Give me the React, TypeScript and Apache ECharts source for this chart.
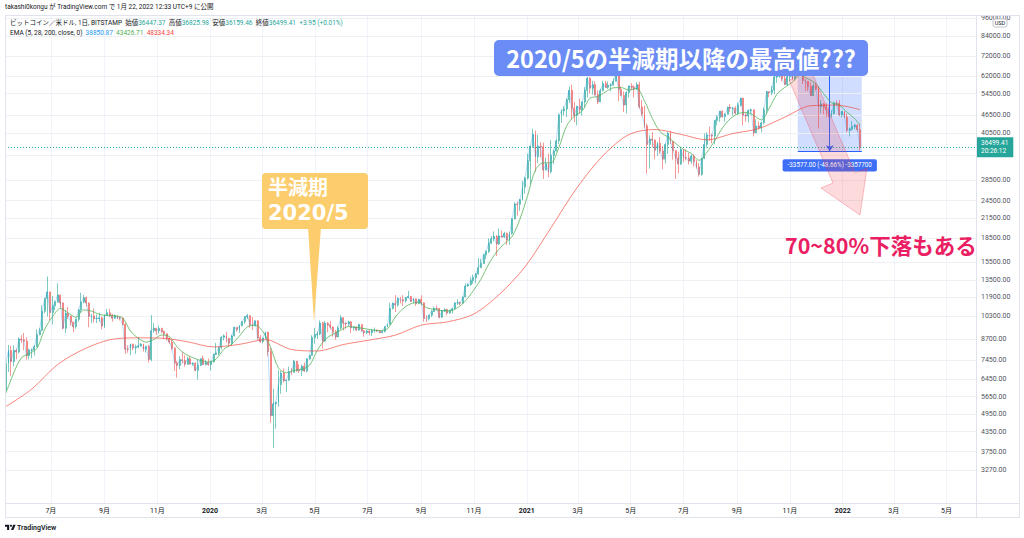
import React, { useEffect, useRef } from 'react';
import * as echarts from 'echarts';

// ---------- DATA ----------
// 3-day candles starting at 2019-05-09, rows: [open, high, low, close]
const ohlc: number[][] = [
  [5950,7450,5950,7250],[7250,8330,6800,7990],[7990,8270,6600,7350],[7350,8300,7100,7990],[7990,8100,7480,7900],
  [7900,8800,7800,8700],[8700,8950,8450,8650],[8650,9100,8000,8560],[8560,8820,7450,7680],[7680,8100,7470,8000],
  [8000,8100,7530,8010],[8010,8320,7700,8230],[8230,9350,8180,8980],[8980,9450,8950,9280],[9280,11200,9250,10700],
  [10700,11800,10550,11780],[11780,13880,10300,12370],[12370,12370,10000,10600],[10600,12000,9700,11150],[11150,11600,10800,11470],
  [11470,13200,11400,12100],[12100,12100,11000,11390],[11390,11450,9350,9430],[9430,10800,9100,10530],[10530,11050,10100,10330],
  [10330,10340,9600,9880],[9880,9900,9150,9540],[9540,10130,9400,10080],[10080,10900,9900,10820],[10820,12300,10600,11470],
  [11470,12100,11350,11850],[11850,11950,11100,11380],[11380,11450,9500,10320],[10320,10500,9800,10340],[10340,10950,9850,10130],
  [10130,10450,9800,10150],[10150,10600,9900,10190],[10190,10280,9350,9590],[9590,10450,9450,10380],[10380,10900,10350,10580],
  [10580,10900,10250,10420],[10420,10500,9900,10160],[10160,10450,10100,10360],[10360,10380,10100,10190],[10190,10300,10000,10180],
  [10180,10200,9650,9700],[9700,9800,7800,8060],[8060,8300,7850,8050],[8050,8400,7700,8370],[8370,8400,8000,8150],
  [8150,8350,7780,8190],[8190,8800,8120,8270],[8270,8440,8220,8370],[8370,8400,7920,8070],[8070,8280,7860,8230],
  [8230,8330,7300,7470],[7470,10400,7370,9250],[9250,9800,9120,9430],[9430,9430,8980,9250],[9250,9600,9050,9410],
  [9410,9470,9100,9210],[9210,9250,8700,9050],[9050,9070,8600,8760],[8760,8790,8400,8500],[8500,8650,8000,8120],
  [8120,8200,6850,7280],[7280,7380,6520,7140],[7140,7650,6950,7450],[7450,7880,7250,7410],[7410,7700,7080,7200],
  [7200,7620,7180,7510],[7510,7650,7180,7220],[7220,7300,7120,7260],[7260,7300,6840,6880],[6880,7440,6430,7150],
  [7150,7520,7100,7510],[7510,7690,7150,7200],[7200,7440,7130,7300],[7300,7520,7120,7180],[7180,7400,6870,7340],
  [7340,7800,7280,7760],[7760,8450,7720,7820],[7820,8200,7700,8180],[8180,8880,8050,8810],[8810,9000,8600,8910],
  [8910,9180,8470,8740],[8740,8780,8250,8430],[8430,8980,8280,8900],[8900,9550,8880,9500],[9500,9500,9200,9330],
  [9330,9640,9100,9610],[9610,9950,9570,9900],[9900,10300,9740,10270],[10270,10500,10100,10360],[10360,10380,9450,9700],
  [9700,10250,9300,9600],[9600,9990,9580,9970],[9970,10000,8650,8790],[8790,8950,8450,8540],[8540,8780,8420,8760],
  [8760,9180,8680,9160],[9160,9190,7650,7930],[7930,8150,4650,4900],[4900,6000,3850,5360],[5360,5450,4450,5410],
  [5410,6900,5250,6190],[6190,6850,5780,6740],[6740,6980,6280,6370],[6370,6400,5850,6400],[6400,7080,6350,6790],
  [6790,7000,6650,6780],[6780,7450,6770,7370],[7370,7380,6800,6890],[6890,7200,6750,6870],[6870,7180,6600,7100],
  [7100,7300,6800,6850],[6850,7530,6780,7490],[7490,7720,7450,7700],[7700,8950,7680,8790],[8790,9460,8400,8970],
  [8970,9200,8700,9030],[9030,10000,8950,9810],[9810,9900,8100,8560],[8560,9950,8550,9790],[9790,9880,9150,9680],
  [9680,9960,9350,9510],[9510,9570,8850,9180],[9180,9310,8650,8840],[8840,9600,8820,9430],[9430,10400,9350,10200],
  [10200,10230,9280,9800],[9800,9860,9400,9760],[9760,9990,9600,9890],[9890,9950,9100,9470],[9470,9550,9250,9520],
  [9520,9560,9220,9300],[9300,9750,9250,9690],[9690,9700,9200,9250],[9250,9300,8850,9120],[9120,9300,9030,9240],
  [9240,9270,8950,9130],[9130,9380,8900,9250],[9250,9480,9120,9290],[9290,9350,9180,9240],[9240,9280,9080,9130],
  [9130,9230,9080,9210],[9210,9560,9140,9540],[9540,9730,9500,9710],[9710,11400,9700,10930],[10930,11450,10850,11350],
  [11350,12080,10650,11240],[11240,11900,11080,11770],[11770,11920,11350,11680],[11680,12080,11150,11580],[11580,11900,11450,11860],
  [11860,12480,11800,11960],[11960,12000,11500,11520],[11520,11800,11370,11750],[11750,11770,11150,11320],[11320,11720,11300,11710],
  [11710,12080,11200,11400],[11400,11450,9900,10170],[10170,10400,9880,10130],[10130,10420,10000,10400],[10400,10800,10250,10680],
  [10680,11100,10650,10940],[10940,11180,10800,10920],[10920,10990,10150,10240],[10240,10780,10200,10730],[10730,10950,10650,10840],
  [10840,10920,10400,10570],[10570,10800,10500,10790],[10790,10950,10530,10920],[10920,11450,10850,11380],[11380,11720,11220,11420],
  [11420,11500,11200,11370],[11370,11950,11350,11920],[11920,13200,11900,12930],[12930,13200,12850,13070],[13070,13850,12950,13460],
  [13460,14100,13150,13750],[13750,14250,13200,14150],[14150,15950,14100,14840],[14840,15850,14800,15300],[15300,16480,15250,16320],
  [16320,16880,15800,16730],[16730,18480,16550,17820],[17820,18800,17700,18420],[18420,19450,18050,18740],[18740,18930,16200,17720],
  [17720,19900,17580,18790],[18790,19600,18570,18650],[18650,19420,18550,19170],[19170,19300,17600,18250],[18250,19400,17600,19170],
  [19170,21500,19000,21360],[21360,24200,21300,23860],[23860,24300,21900,23820],[23820,24800,22700,24690],[24690,28400,24550,27080],
  [27080,29300,25800,28980],[28980,34800,28700,33000],[33000,36900,27700,36800],[36800,41950,36300,40200],[40200,41400,30400,34000],
  [34000,40100,32400,36800],[36800,37900,33800,36600],[36600,37800,28800,30800],[30800,33800,30700,32300],[32300,34800,29200,30400],
  [30400,38500,30000,34300],[34300,35900,32200,35500],[35500,38700,35400,38300],[38300,47000,37400,46400],[46400,48600,43800,47900],
  [47900,49700,46200,48600],[48600,52600,45800,52100],[52100,57500,50900,55900],[55900,58300,45000,48900],[48900,51300,44100,46300],
  [46300,49800,43000,49600],[49600,52600,47000,48400],[48400,51400,46300,51200],[51200,57200,49300,55900],[55900,61800,53000,61200],
  [61200,61700,54600,56800],[56800,60000,54100,58300],[58300,59900,53700,54100],[54100,55800,50400,51300],[51300,56600,51200,55800],
  [55800,60000,55500,58800],[58800,60000,56900,57100],[57100,59700,56500,58000],[58000,58900,55500,58100],[58100,61200,57900,59800],
  [59800,64900,59800,63200],[63200,63500,51500,56200],[56200,57500,53500,53800],[53800,55400,47500,50100],[50100,55400,47000,55000],
  [55000,58000,53000,57700],[57700,58900,56000,57200],[57200,58000,53100,56400],[56400,59500,56000,58300],[58300,59600,48700,49400],
  [49400,52000,46000,46800],[46800,49800,42100,42900],[42900,43600,30000,37300],[37300,39900,31100,38800],[38800,40900,36500,38500],
  [38500,38800,33400,35700],[35700,38000,34200,37600],[37600,39400,34800,35500],[35500,36800,31000,33400],[33400,37600,32400,37300],
  [37300,41000,34700,40500],[40500,41300,37400,38100],[38100,38200,33300,35600],[35600,35700,28800,33700],[33700,35300,30100,32200],
  [32200,36600,32000,35900],[35900,36000,32700,33800],[33800,35900,33100,33700],[33700,35000,32100,32900],[32900,34600,32300,34200],
  [34200,34600,31600,32800],[32800,33200,31100,31500],[31500,32400,29300,29800],[29800,33700,29500,33600],[33600,40500,33400,37300],
  [37300,40900,36400,40000],[40000,42600,38300,39900],[39900,40400,37600,39700],[39700,44700,37300,44600],[44600,46500,43000,45600],
  [45600,47900,44200,47800],[47800,48100,45600,45900],[45900,47200,44200,46700],[46700,49400,46600,49300],[49300,50500,47600,48900],
  [48900,49300,46300,48900],[48900,49600,46700,47100],[47100,51000,46600,50000],[50000,52900,49500,52700],[52700,52900,43000,46400],
  [46400,47200,44200,46100],[46100,48400,44000,48100],[48100,48800,46800,48300],[48300,48400,39600,40700],[40700,45000,40600,42800],
  [42800,44300,41700,42200],[42200,44100,40800,43800],[43800,49200,43300,48200],[48200,55700,46900,55300],[55300,55400,53100,54900],
  [54900,57800,53900,56000],[56000,62900,54300,61700],[61700,62700,59100,62000],[62000,67000,61400,62200],[62200,63700,59700,60900],
  [60900,63700,58100,58400],[58400,62500,57800,61900],[61900,64300,59800,63200],[63200,63500,60200,61000],[61000,67800,60100,67500],
  [67500,69000,62800,64900],[64900,65500,62300,65500],[65500,66300,58600,60300],[60300,60900,55600,59700],[59700,60000,55600,57600],
  [57600,59300,53600,53700],[53700,58800,53600,57800],[57800,59200,55900,56500],[56500,57600,42000,49400],[49400,51900,47100,50500],
  [50500,50800,46800,49400],[49400,50700,45700,48400],[48400,49500,45600,46200],[46200,48300,45500,46900],[46900,51300,46600,50800],
  [50800,51800,50000,50700],[50700,52000,46100,46500],[46500,47900,45700,47700],[47700,47900,45500,45800],[45800,47000,40800,41500],
  [41500,42300,39600,41800],[41800,44400,41300,42600],[42600,43500,41800,43100],[43100,43200,41100,41700],[41700,43500,35500,36500],
];

// EMA 28 read every third candle (last value = final candle)
const ema28: number[] = [
  5800,6741,7563,7794,8121,9378,10290,10937,10572,10233,
  10816,10722,10460,10365,10344,10179,9235,8753,8500,8670,
  8966,8859,8192,7789,7566,7407,7324,7492,8061,8370,
  8905,9526,9649,9201,8172,7009,6761,6888,6929,7158,
  8010,8668,9029,9297,9551,9491,9410,9318,9270,9393,
  10251,10925,11323,11456,10997,10865,10753,10747,11002,11567,
  12477,13606,15252,16676,17738,18731,21326,25502,30861,32502,
  32509,36480,42831,46106,47905,52716,53381,55267,56948,57032,
  55997,56677,51589,45297,41019,39399,37560,35918,34853,33112,
  35169,38303,42180,45171,46890,47409,46358,44788,48823,54293,
  57130,59444,62500,60867,58671,54468,50979,50070,47474,45176,
  42960,
];

// EMA 200 read every tenth candle (last value = final candle)
const ema200: number[] = [
  5250,5984,7196,8060,8652,8779,8757,8520,8199,8360,
  8657,8043,7956,8350,8631,8957,9656,9891,10463,12126,
  14942,20013,26990,34292,40147,41697,40216,38596,40444,41997,
  45712,49809,50029,48375,
];

const priceTicks: number[] = [96000, 84000, 72000, 62000, 54500, 46500, 40500, 28500, 24500, 21500, 18500, 15500, 13500, 11900, 10300, 8700, 7450, 6450, 5650, 4950, 4350, 3750, 3270];
const unlabeledTicks: number[] = [34500];
const lastPrice = 36499.41;
const measureHigh = 69000;
const measureLow = 35423;

// ---------- helpers ----------
const DAY = 86400000;
const candleTime = (i: number) => new Date(2019, 4, 10 + 3 * i).getTime();
const X_MIN = new Date(2019, 4, 9).getTime();
const X_MAX = new Date(2022, 5, 4).getTime();
const T_PEAK = new Date(2021, 10, 10).getTime();
const T_END = new Date(2022, 0, 23).getTime();
const T_MID = new Date(2021, 11, 17).getTime();

const FONT = 'Roboto, "Noto Sans CJK JP", sans-serif';
const JP = '"Noto Sans CJK JP", "Noto Sans", sans-serif';

echarts.graphic.registerShape(
  'tvlogo',
  echarts.graphic.extendPath('M14 22H7V11H0V4h14v18zM28 22h-8l7.5-18h8L28 22z', {}) as any
);

function buildOption() {
  const candleData = ohlc.map((r, i) => [candleTime(i), r[0], r[3], r[2], r[1]]);
  const closeLine = ohlc.map((r, i) => [candleTime(i), r[3]]);
  const last = ohlc.length - 1;
  const ema28Data = ema28.map((v, k) => [candleTime(k < ema28.length - 1 ? k * 3 : last), v]);
  const ema200Data = ema200.map((v, k) => [candleTime(k < ema200.length - 1 ? k * 10 : last), v]);

  const gridLines: any[] = priceTicks.map((v) => ({
    yAxis: v,
    lineStyle: { color: '#eef0f4', width: 1, type: 'solid' },
    label: { show: true, position: 'end', distance: 5, formatter: v.toFixed(2), color: '#50535e', fontSize: 7, fontFamily: FONT },
  }));
  unlabeledTicks.forEach((v) => gridLines.push({ yAxis: v, lineStyle: { color: '#eef0f4', width: 1, type: 'solid' }, label: { show: false } }));
  gridLines.push({
    yAxis: lastPrice,
    lineStyle: { color: '#26a69a', width: 1, type: [1, 2] },
    label: {
      show: true, position: 'end', distance: 0, formatter: '36499.41\n20:26:12',
      backgroundColor: '#26a69a', color: '#ffffff', padding: [2, 5, 2, 5], fontSize: 6.5, lineHeight: 8, fontFamily: FONT,
    },
  });
  gridLines.push({
    yAxis: lastPrice,
    lineStyle: { opacity: 0 },
    label: {
      show: true, position: 'insideEnd', distance: 3, formatter: 'BTCUSD',
      backgroundColor: '#26a69a', color: '#ffffff', padding: [2, 3, 2, 3], fontSize: 6.5, fontFamily: FONT,
    },
  });

  const monthLabel = (val: number) => {
    const d = new Date(val);
    if (d.getDate() !== 1) return '';
    const m = d.getMonth();
    if (m === 0) return '{y|' + d.getFullYear() + '}';
    return m + 1 + '月';
  };

  const line = (x1: number, y1: number, x2: number, y2: number) => ({
    type: 'line', silent: true, z: 50,
    shape: { x1, y1, x2, y2 },
    style: { stroke: '#e0e3eb', lineWidth: 1 },
  });

  return {
    animation: false,
    backgroundColor: '#ffffff',
    textStyle: { fontFamily: FONT },
    grid: { left: 5, right: 48, top: 15, bottom: 35, containLabel: false },
    xAxis: {
      type: 'time',
      min: X_MIN,
      max: X_MAX,
      splitNumber: 17,
      minInterval: 65 * DAY,
      maxInterval: 65 * DAY,
      axisLine: { show: false },
      axisTick: { show: false },
      axisLabel: {
        show: true, margin: 4, fontSize: 7, color: '#131722', fontFamily: FONT,
        showMinLabel: false, showMaxLabel: false,
        formatter: monthLabel,
        rich: { y: { fontWeight: 'bold', fontSize: 7, color: '#131722', fontFamily: FONT } },
      },
      splitLine: { show: true, lineStyle: { color: '#f0f3fa', width: 1 } },
    },
    yAxis: {
      type: 'log',
      logBase: 10,
      position: 'right',
      min: 2552,
      max: 98180,
      axisLine: { show: false },
      axisTick: { show: false },
      axisLabel: { show: false },
      splitLine: { show: false },
    },
    series: [
      {
        type: 'candlestick',
        name: 'BTCUSD',
        data: candleData,
        barWidth: 1.4,
        itemStyle: {
          color: 'rgba(38,166,154,0.5)',
          color0: 'rgba(239,83,80,0.5)',
          borderColor: 'rgba(38,166,154,0.6)',
          borderColor0: 'rgba(239,83,80,0.6)',
          borderWidth: 1,
        },
        z: 3,
        markLine: { silent: true, symbol: ['none', 'none'], z: 1, data: gridLines },
      },
      {
        type: 'line', name: 'EMA5', data: closeLine, showSymbol: false, z: 4,
        lineStyle: { color: 'rgba(33,150,243,0.4)', width: 0.8 },
      },
      {
        type: 'line', name: 'EMA28', data: ema28Data, showSymbol: false, smooth: 0.3, z: 5,
        lineStyle: { color: 'rgba(76,175,80,0.75)', width: 1 },
      },
      {
        type: 'line', name: 'EMA200', data: ema200Data, showSymbol: false, smooth: 0.3, z: 5,
        lineStyle: { color: 'rgba(244,67,54,0.65)', width: 1 },
        markArea: {
          silent: true,
          itemStyle: { color: 'rgba(41,98,255,0.22)' },
          data: [[{ xAxis: T_PEAK, yAxis: measureHigh }, { xAxis: T_END, yAxis: measureLow }]],
        },
        markLine: {
          silent: true,
          symbol: ['none', 'none'],
          lineStyle: { color: '#2962ff', width: 1, type: 'solid' },
          label: { show: false },
          data: [
            [
              { coord: [T_MID, measureHigh], symbol: 'none' },
              { coord: [T_MID, measureLow], symbol: 'arrow', symbolSize: 6 },
            ],
            [
              {
                coord: [T_PEAK, measureLow], symbol: 'none',
                label: {
                  show: true, position: 'insideMiddleBottom', distance: 8,
                  formatter: '-33577.00 (-48.66%) -3357700',
                  backgroundColor: '#3d6ef5', color: '#ffffff', padding: [3, 5, 3, 5],
                  borderRadius: 2, fontSize: 6.3, fontFamily: FONT,
                },
              },
              { coord: [T_END, measureLow], symbol: 'none' },
            ],
          ],
        },
      },
    ],
    graphic: [
      line(5, 15.5, 1020, 15.5),
      line(5, 503.5, 1020, 503.5),
      line(5, 517.5, 1020, 517.5),
      line(5.5, 15, 5.5, 518),
      line(976.5, 15, 976.5, 518),
      line(1019.5, 15, 1019.5, 518),
      // header
      {
        type: 'text', x: 5, y: 7, z: 60, silent: true,
        style: {
          text: 'takashi0kongu が TradingView.com で 1月 22, 2022 12:33 UTC+9 に公開',
          fill: '#131722', fontSize: 6.5, fontFamily: FONT, verticalAlign: 'middle', align: 'left',
        },
      },
      {
        type: 'text', x: 10, y: 23, z: 60, silent: true,
        style: {
          text: '{n|ビットコイン／米ドル, 1日, BITSTAMP  始値}{g|36447.37}{n|  高値}{g|36825.98}{n|  安値}{g|36159.46}{n|  終値}{g|36499.41  +3.95 (+0.01%)}',
          verticalAlign: 'middle', align: 'left',
          rich: {
            n: { fill: '#131722', fontSize: 6.5, fontFamily: FONT },
            g: { fill: '#26a69a', fontSize: 6.5, fontFamily: FONT },
          },
        },
      },
      {
        type: 'text', x: 10, y: 33, z: 60, silent: true,
        style: {
          text: '{n|EMA (5, 28, 200, close, 0)}{b|  38850.87}{g|  43426.71}{r|  48334.34}',
          verticalAlign: 'middle', align: 'left',
          rich: {
            n: { fill: '#131722', fontSize: 6.5, fontFamily: FONT },
            b: { fill: '#2196f3', fontSize: 6.5, fontFamily: FONT },
            g: { fill: '#4caf50', fontSize: 6.5, fontFamily: FONT },
            r: { fill: '#f44336', fontSize: 6.5, fontFamily: FONT },
          },
        },
      },
      // USD box
      {
        type: 'rect', z: 60, silent: true,
        shape: { x: 993, y: 19, width: 14, height: 8, r: 2 },
        style: { fill: '#ffffff', stroke: '#b2b5be', lineWidth: 0.8 },
      },
      {
        type: 'text', x: 1000, y: 23, z: 61, silent: true,
        style: { text: 'USD', fill: '#131722', fontSize: 5.5, fontFamily: FONT, align: 'center', verticalAlign: 'middle' },
      },
      // orange callout
      {
        type: 'polygon', z: 70, silent: true,
        shape: { points: [[308, 227], [321, 227], [314, 322]] },
        style: { fill: '#fbcd6c' },
      },
      {
        type: 'rect', z: 70, silent: true,
        shape: { x: 262, y: 173, width: 106, height: 56, r: 4 },
        style: { fill: '#fbcd6c' },
      },
      {
        type: 'text', x: 268, y: 186, z: 71, silent: true,
        style: { text: '半減期', fill: '#ffffff', fontSize: 20, fontWeight: 'bold', fontFamily: JP, align: 'left', verticalAlign: 'middle' },
      },
      {
        type: 'text', x: 268, y: 213, z: 71, silent: true,
        style: { text: '2020/5', fill: '#ffffff', fontSize: 21, fontWeight: 'bold', fontFamily: '"DejaVu Sans", sans-serif', align: 'left', verticalAlign: 'middle' },
      },
      // blue callout
      {
        type: 'rect', z: 70, silent: true,
        shape: { x: 494, y: 40, width: 374, height: 36, r: 5 },
        style: { fill: '#6a8cf4' },
      },
      {
        type: 'text', x: 681, y: 58, z: 71, silent: true,
        style: { text: '2020/5の半減期以降の最高値???', fill: '#ffffff', fontSize: 23.5, fontWeight: 'bold', fontFamily: JP, align: 'center', verticalAlign: 'middle' },
      },
      // pink arrow
      {
        type: 'polygon', z: 65, silent: true,
        shape: { points: [[789, 80], [811, 70], [855, 173], [867, 168], [860, 215], [821, 188], [833, 183]] },
        style: { fill: 'rgba(242,54,69,0.18)', stroke: 'rgba(242,54,69,0.3)', lineWidth: 1 },
      },
      {
        type: 'text', x: 785, y: 244, z: 71, silent: true,
        style: { text: '70~80%下落もある', fill: '#e91e63', fontSize: 21.5, fontWeight: 'bold', fontFamily: JP, align: 'left', verticalAlign: 'middle' },
      },
      // TradingView logo
      {
        type: 'tvlogo', x: 5, y: 523.5, scaleX: 0.3, scaleY: 0.3, z: 60, silent: true,
        style: { fill: '#131722' },
      },
      {
        type: 'circle', z: 60, silent: true,
        shape: { cx: 5 + 20 * 0.3, cy: 523.5 + 7.5 * 0.3, r: 3.5 * 0.3 },
        style: { fill: '#131722' },
      },
      {
        type: 'text', x: 17, y: 527.5, z: 60, silent: true,
        style: { text: 'TradingView', fill: '#131722', fontSize: 7, fontWeight: 600, fontFamily: FONT, align: 'left', verticalAlign: 'middle' },
      },
    ],
  };
}

export default function App() {
  const ref = useRef<HTMLDivElement>(null);
  useEffect(() => {
    if (!ref.current) return;
    const chart = echarts.init(ref.current, null, { renderer: 'svg' });
    chart.setOption(buildOption() as any);
    return () => chart.dispose();
  }, []);
  return (
    <div
      ref={ref}
      style={{ position: 'fixed', left: 0, top: 0, width: 1024, height: 538, background: '#ffffff' }}
    />
  );
}
